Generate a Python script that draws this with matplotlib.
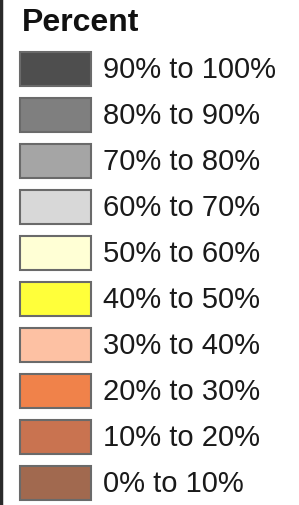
import matplotlib
matplotlib.use("Agg")
import matplotlib.pyplot as plt

title = "Percent"
labels = ["90% to 100%", "80% to 90%", "70% to 80%", "60% to 70%", "50% to 60%",
          "40% to 50%", "30% to 40%", "20% to 30%", "10% to 20%", "0% to 10%"]
colors = ["#4e4e4e", "#7f7f7f", "#a5a5a5", "#d8d8d8", "#ffffd5",
          "#ffff3a", "#fdc1a3", "#f0824a", "#c97350", "#a1694f"]

plt.rcParams["font.family"] = ["Liberation Sans", "DejaVu Sans"]

fig: plt.Figure = plt.figure(figsize=(2.99, 5.05), dpi=100)
ax: plt.Axes = fig.add_axes([0, 0, 1, 1])
ax.set_xlim(0, 299)
ax.set_ylim(505, 0)
ax.axis("off")

ys = [69 + 46 * i for i in range(len(labels))]
ax.barh(ys, 71, left=20, height=34, color=colors, edgecolor="#6a6a6a", linewidth=1.5)
for y, lab in zip(ys, labels):
    ax.text(103, y + 1, lab, fontsize=21, va="center", ha="left", color="#1a1a1a")

ax.text(22, 23, title, fontsize=23, fontweight="bold", va="center", ha="left", color="#111111")

# dark border line on the left edge
ax.axvline(1.2, color="#2a2a2a", linewidth=2.5)

fig.savefig("out.png", dpi=100)
